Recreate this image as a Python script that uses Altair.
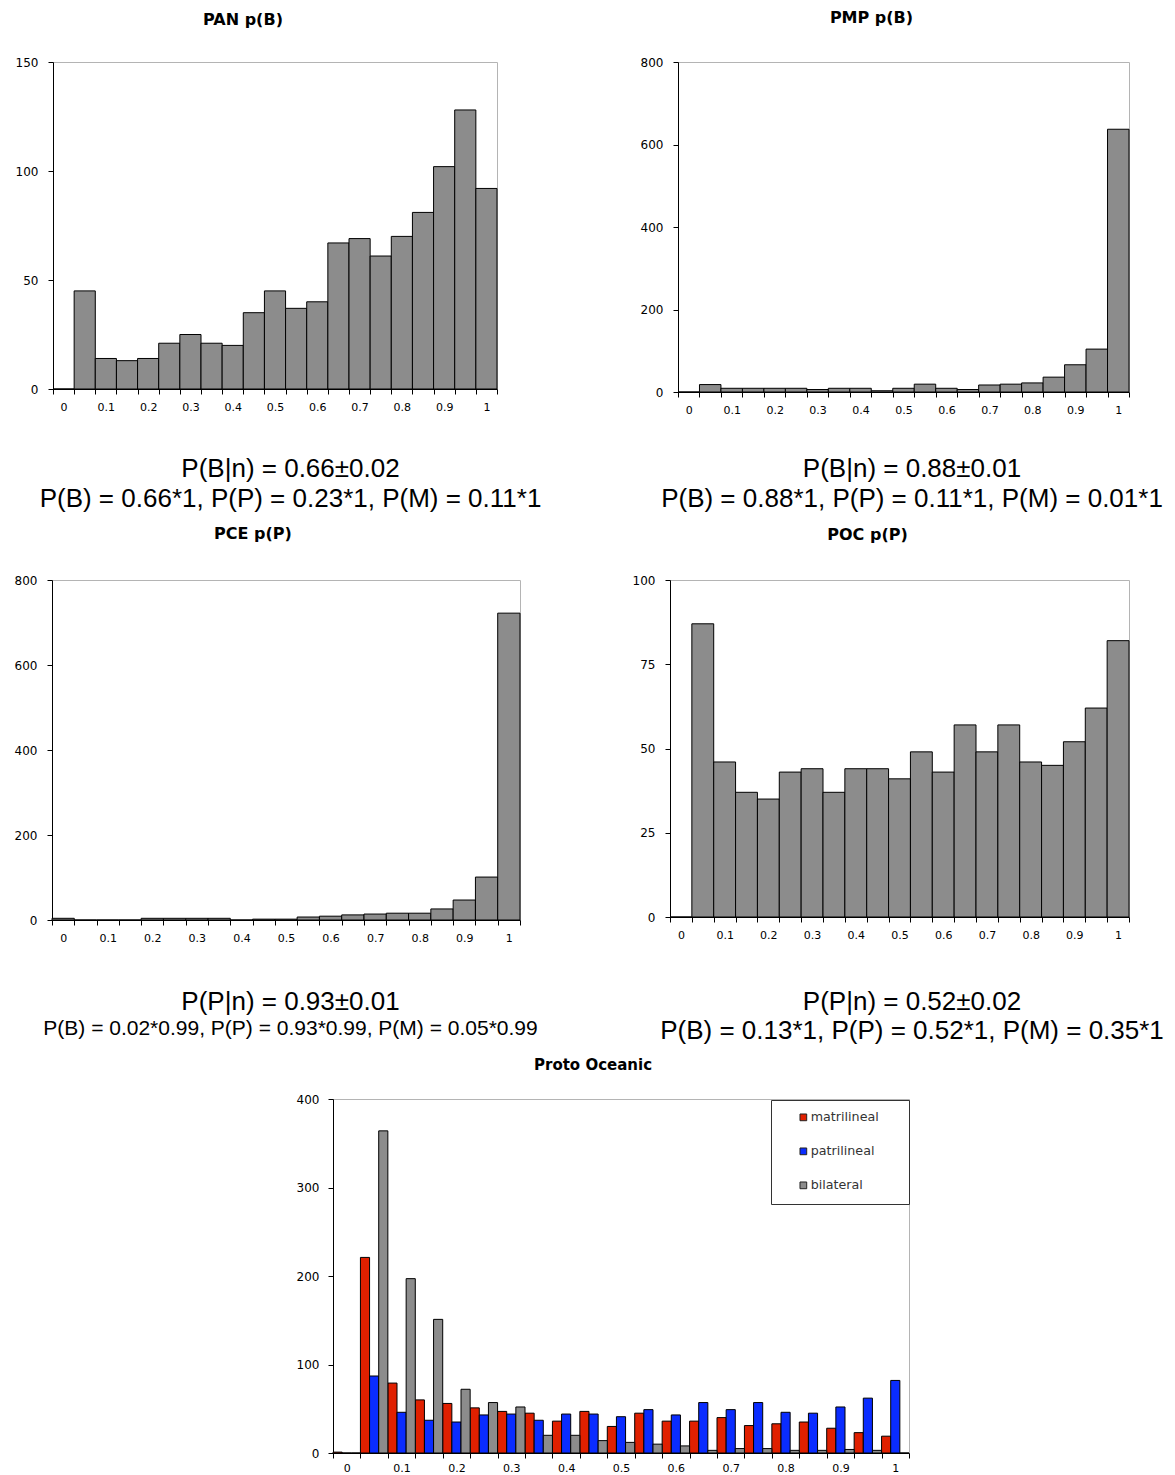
import altair as alt
import pandas as pd

# ---------------- data ----------------
BINS = ["0", "0.05", "0.1", "0.15", "0.2", "0.25", "0.3", "0.35", "0.4", "0.45", "0.5",
        "0.55", "0.6", "0.65", "0.7", "0.75", "0.8", "0.85", "0.9", "0.95", "1"]
SHOWN = ["0", "0.1", "0.2", "0.3", "0.4", "0.5", "0.6", "0.7", "0.8", "0.9", "1"]

PAN = [0, 45, 14, 13, 14, 21, 25, 21, 20, 35, 45, 37, 40, 67, 69, 61, 70, 81, 102, 128, 92]
PMP = [0, 18, 9, 9, 9, 9, 6, 9, 9, 3, 9, 19, 9, 6, 17, 19, 22, 36, 66, 104, 637]
PCE = [4, 0, 0, 0, 4, 4, 4, 4, 0, 2, 2, 7, 9, 12, 14, 16, 16, 26, 47, 101, 722]
POC = [0, 87, 46, 37, 35, 43, 44, 37, 44, 44, 41, 49, 43, 57, 49, 57, 46, 45, 52, 62, 82]

SERIES = ["matrilineal", "patrilineal", "bilateral"]
MATRI = [1, 221, 79, 60, 56, 51, 47, 45, 36, 47, 30, 45, 36, 36, 40, 31, 33, 35, 28, 23, 19]
PATRI = [0, 87, 46, 37, 35, 43, 44, 37, 44, 44, 41, 49, 43, 57, 49, 57, 46, 45, 52, 62, 82]
BILAT = [0, 364, 197, 151, 72, 57, 52, 20, 20, 14, 12, 10, 8, 3, 5, 5, 3, 3, 4, 3, 0]

TITLES = ["PAN p(B)", "PMP p(B)", "PCE p(P)", "POC p(P)", "Proto Oceanic"]
NOTES = {
    "PAN": ["P(B|n) = 0.66±0.02", "P(B) = 0.66*1, P(P) = 0.23*1, P(M) = 0.11*1"],
    "PMP": ["P(B|n) = 0.88±0.01", "P(B) = 0.88*1, P(P) = 0.11*1, P(M) = 0.01*1"],
    "PCE": ["P(P|n) = 0.93±0.01", "P(B) = 0.02*0.99, P(P) = 0.93*0.99, P(M) = 0.05*0.99"],
    "POC": ["P(P|n) = 0.52±0.02", "P(B) = 0.13*1, P(P) = 0.52*1, P(M) = 0.35*1"],
}

# ---------------- styles ----------------
GRAY = "#8c8c8c"
COLORS = ["#e02000", "#0a2cff", "#8c8c8c"]
AXFONT = "DejaVu Sans"
TXTFONT = "Liberation Sans"
FRAME = "#b4b4b4"

label_list = "[" + ",".join("'%s'" % s for s in SHOWN) + "]"
XLABEL_EXPR = "indexof(%s, datum.value) >= 0 ? datum.label : ''" % label_list


def x_axis(lp=7):
    return alt.Axis(title="", tickBand="extent", labelExpr=XLABEL_EXPR, labelAngle=0,
                    tickSize=5, labelPadding=lp, labelFont=AXFONT, labelFontSize=11,
                    labelColor="#000", domainColor="#000", tickColor="#000", grid=False)


def y_axis(vals, lp=10):
    return alt.Axis(title="", values=vals, tickSize=5, labelPadding=lp, labelFont=AXFONT,
                    labelFontSize=12, labelColor="#000", domainColor="#000",
                    tickColor="#000", grid=False)


def title(txt, dx, off, size=16):
    return alt.TitleParams(text=txt, font=AXFONT, fontSize=size, fontWeight="bold",
                           anchor="middle", dx=dx, offset=off, frame="group",
                           baseline="alphabetic", color="#000")


def note(txt, x, y, size):
    return alt.Chart(pd.DataFrame({"t": [txt]})).mark_text(
        font=TXTFONT, fontSize=size, align="center", baseline="middle", color="#000"
    ).encode(text="t:N", x=alt.value(x), y=alt.value(y))


def hist(values, ttl, w, h, ymax, yvals, dx, off, notes):
    df = pd.DataFrame({"bin": BINS, "count": values})
    bars = alt.Chart(df).mark_bar(fill=GRAY, stroke="#000", strokeWidth=1).encode(
        x=alt.X("bin:O", sort=BINS, scale=alt.Scale(paddingInner=0, paddingOuter=0),
                axis=x_axis()),
        y=alt.Y("count:Q", scale=alt.Scale(domain=[0, ymax], nice=False), axis=y_axis(yvals)),
    )
    layers = [bars] + [note(*n) for n in notes]
    return alt.layer(*layers).properties(
        width=w, height=h, title=title(ttl, dx, off),
        view=alt.ViewBackground(stroke=FRAME, strokeWidth=1),
    )


def sp(w, h):
    # invisible spacer: a zero-size point, so it adds nothing outside its own box
    return alt.Chart(pd.DataFrame({"s": [0]})).mark_point(
        opacity=0, size=0, strokeWidth=0, filled=True
    ).encode(x=alt.value(0), y=alt.value(0)).properties(width=w, height=h)


pan = hist(PAN, TITLES[0], 444, 327, 150, [0, 50, 100, 150], -32, 15,
           [(NOTES["PAN"][0], 237.5, 407, 26), (NOTES["PAN"][1], 237.5, 437, 26)])
pmp = hist(PMP, TITLES[1], 451, 330, 800, [0, 200, 400, 600, 800], -32, 17,
           [(NOTES["PMP"][0], 234, 407, 26), (NOTES["PMP"][1], 234, 437, 26)])
pce = hist(PCE, TITLES[2], 468, 340, 800, [0, 200, 400, 600, 800], -33, 19,
           [(NOTES["PCE"][0], 238.5, 422, 26), (NOTES["PCE"][1], 238.5, 449, 21)])
poc = hist(POC, TITLES[3], 459, 337, 100, [0, 25, 50, 75, 100], -32, 18,
           [(NOTES["POC"][0], 242, 422, 26), (NOTES["POC"][1], 242, 451, 26)])

rows = []
for s, vals in zip(SERIES, [MATRI, PATRI, BILAT]):
    for b, v in zip(BINS, vals):
        rows.append({"bin": b, "series": s, "count": v})
proto_df = pd.DataFrame(rows)

proto = alt.Chart(proto_df).mark_bar(stroke="#000", strokeWidth=1).encode(
    x=alt.X("bin:O", sort=BINS, scale=alt.Scale(paddingInner=0, paddingOuter=0),
            axis=x_axis(4)),
    xOffset=alt.XOffset("series:N", sort=SERIES,
                        scale=alt.Scale(paddingInner=0, paddingOuter=0)),
    y=alt.Y("count:Q", scale=alt.Scale(domain=[0, 400], nice=False),
            axis=y_axis([0, 100, 200, 300, 400], 9)),
    color=alt.Color("series:N", sort=SERIES,
                    scale=alt.Scale(domain=SERIES, range=COLORS),
                    legend=alt.Legend(title=None, orient="none", legendX=438, legendY=1,
                                      padding=11, strokeColor="#333", fillColor="#fff",
                                      symbolType="square", symbolSize=45,
                                      symbolStrokeColor="#222", symbolStrokeWidth=1,
                                      symbolOffset=15, labelOffset=1, rowPadding=20,
                                      labelFont=AXFONT, labelFontSize=12.7, labelColor="#333",
                                      labelExpr="datum.label + '\u2800\u2800'")),
).properties(width=576, height=354, title=title(TITLES[4], -28, 8, 15),
             view=alt.ViewBackground(stroke=FRAME, strokeWidth=1))

# rows: flush inside, tall invisible spacers control the gap to the next row
row1 = alt.hconcat(sp(53, 463), pan, sp(181, 1), pmp, spacing=0, bounds="flush")
row2 = alt.hconcat(sp(52, 477), pce, sp(150, 1), poc, spacing=0, bounds="flush")
row3 = alt.hconcat(sp(333, 1), proto, spacing=0,
                   bounds="flush").resolve_legend(color="independent")

chart = alt.vconcat(
    sp(1, 9), row1, row2, row3, spacing=0
).resolve_legend(color="independent").properties(
    padding=0, background="#ffffff"
).configure_view(strokeWidth=0)

chart.save("out.html", embed_options={"renderer": "svg", "actions": False})
